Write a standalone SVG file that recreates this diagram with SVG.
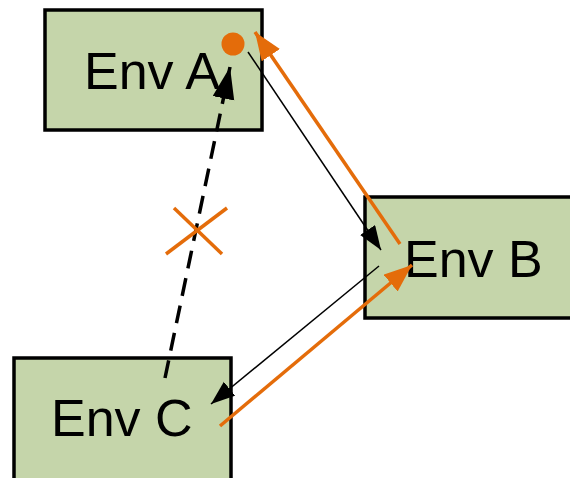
<svg xmlns="http://www.w3.org/2000/svg" width="570" height="478" viewBox="0 0 570 478">
<defs>
<style>
.box{fill:#C5D5AA;stroke:#000;stroke-width:3.5}
.lbl{font-family:"Liberation Sans",Arial,sans-serif;font-size:52px;fill:#000}
.thin{stroke:#000;stroke-width:1.5;fill:none}
.org{stroke:#E46C0A;stroke-width:3.5;fill:none}
.dash{stroke:#000;stroke-width:3.5;fill:none;stroke-dasharray:18 10}
</style>
<marker id="mb" markerUnits="userSpaceOnUse" markerWidth="26" markerHeight="20" refX="24" refY="9" orient="auto"><path d="M0,0 L24,9 L0,18 Z" fill="#000"/></marker>
<marker id="mo" markerUnits="userSpaceOnUse" markerWidth="30" markerHeight="24" refX="28" refY="11" orient="auto"><path d="M0,0 L28,11 L0,22 Z" fill="#E46C0A"/></marker>
<marker id="md" markerUnits="userSpaceOnUse" markerWidth="34" markerHeight="24" refX="32" refY="11" orient="auto"><path d="M0,0 L32,11 L0,22 Z" fill="#000"/></marker>
</defs>
<g id="envA"><rect class="box" x="45" y="10" width="217" height="120"/><text class="lbl" x="84" y="89">Env A</text></g>
<g id="envB"><rect class="box" x="365" y="197" width="210" height="121"/><text class="lbl" x="404" y="277">Env B</text></g>
<g id="envC"><rect class="box" x="14" y="358" width="217" height="125"/><text class="lbl" x="51" y="436">Env C</text></g>
<g id="connectors">
<line class="thin" x1="248" y1="52" x2="381" y2="250" marker-end="url(#mb)"/>
<line class="org" x1="400" y1="244" x2="255" y2="32" marker-end="url(#mo)"/>
<line class="thin" x1="379" y1="266" x2="211" y2="404" marker-end="url(#mb)"/>
<line class="org" x1="220" y1="426" x2="412" y2="265" marker-end="url(#mo)"/>
<line class="dash" x1="165" y1="378" x2="230" y2="67" marker-end="url(#md)"/>
<circle cx="233" cy="44" r="11.5" fill="#E46C0A"/>
<g class="org" stroke-width="3"><line x1="174" y1="208" x2="222" y2="254"/><line x1="227" y1="208" x2="166" y2="254"/></g>
</g>
</svg>
